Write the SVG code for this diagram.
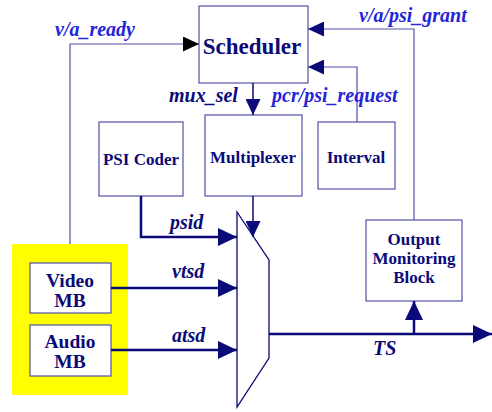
<svg xmlns="http://www.w3.org/2000/svg" width="492" height="412" viewBox="0 0 492 412">
<style>
.box{fill:#ffffff;stroke:#5050a8;stroke-width:1.2}
.nt{font-family:"Liberation Serif",serif;font-weight:bold;fill:#0a0a78;text-anchor:middle}
.lb{font-family:"Liberation Serif",serif;font-weight:bold;font-style:italic;font-size:20px}
.lb1{fill:#2424d8}
.lb2{fill:#0a0a78}
.thin{fill:none;stroke:#5050a8;stroke-width:1.2}
.ctl{fill:none;stroke:#0a0a78;stroke-width:1.5}
.data{fill:none;stroke:#0a0a78;stroke-width:2.5}
</style>
<defs>
<marker id="aL" markerUnits="userSpaceOnUse" markerWidth="19" markerHeight="18" refX="19" refY="9" orient="auto"><path d="M0,0 L19,9 L0,18 z" fill="#0a0a78"/></marker>
<marker id="aS" markerUnits="userSpaceOnUse" markerWidth="16" markerHeight="15" refX="16" refY="7.5" orient="auto"><path d="M0,0 L16,7.5 L0,15 z" fill="#0a0a78"/></marker>
<marker id="aK" markerUnits="userSpaceOnUse" markerWidth="16" markerHeight="15" refX="16" refY="7.5" orient="auto"><path d="M0,0 L16,7.5 L0,15 z" fill="#000000"/></marker>
</defs>
<rect id="mb-group" x="12" y="244" width="116" height="151" fill="#ffff00"/>
<g id="scheduler"><rect class="box" x="199" y="6" width="109" height="77"/><text class="nt" x="252" y="54" font-size="23">Scheduler</text></g>
<g id="psi-coder"><rect class="box" x="99" y="122" width="84" height="74"/><text class="nt" x="141" y="165" font-size="17">PSI Coder</text></g>
<g id="multiplexer"><rect class="box" x="205" y="115" width="97" height="81"/><text class="nt" x="253" y="163" font-size="17">Multiplexer</text></g>
<g id="interval"><rect class="box" x="318" y="122" width="77" height="67"/><text class="nt" x="356" y="163" font-size="17">Interval</text></g>
<g id="output-monitoring"><rect class="box" x="366" y="220" width="96" height="81"/><text class="nt" x="414" y="245" font-size="17">Output</text><text class="nt" x="414" y="264" font-size="17">Monitoring</text><text class="nt" x="414" y="283" font-size="17">Block</text></g>
<g id="video-mb"><rect class="box" x="30" y="263" width="81" height="50"/><text class="nt" x="70" y="287" font-size="19.5">Video</text><text class="nt" x="70" y="307" font-size="19.5">MB</text></g>
<g id="audio-mb"><rect class="box" x="30" y="325" width="81" height="51"/><text class="nt" x="70" y="348" font-size="19.5">Audio</text><text class="nt" x="70" y="368" font-size="19.5">MB</text></g>
<g id="mux"><path d="M237,212 L269,260 L269,358 L237,407 Z" fill="#ffffff" stroke="#0a0a78" stroke-width="1.3"/></g>
<g id="connectors">
<path class="thin" d="M70,244 V44 H199" marker-end="url(#aK)"/>
<path class="thin" d="M414,220 V29 H308" marker-end="url(#aS)"/>
<path class="thin" d="M357,122 V67 H308" marker-end="url(#aS)"/>
<path class="ctl" d="M253,83 V115" marker-end="url(#aS)"/>
<path class="ctl" d="M253,196 V237" marker-end="url(#aS)"/>
<path class="data" d="M141,196 V237 H237" marker-end="url(#aL)"/>
<path class="data" d="M111,288 H237" marker-end="url(#aL)"/>
<path class="data" d="M111,350 H237" marker-end="url(#aL)"/>
<path class="data" d="M269,334 H492" marker-end="url(#aL)"/>
<path class="data" d="M414,334 V301" marker-end="url(#aL)"/>
</g>
<g id="labels">
<text class="lb lb1" x="55" y="36">v/a_ready</text>
<text class="lb lb1" x="359" y="22">v/a/psi_grant</text>
<text class="lb lb1" x="272" y="102">pcr/psi_request</text>
<text class="lb lb2" x="169" y="102">mux_sel</text>
<text class="lb lb2" x="170" y="229">psid</text>
<text class="lb lb2" x="172" y="278">vtsd</text>
<text class="lb lb2" x="172" y="342">atsd</text>
<text class="lb lb2" x="373" y="355">TS</text>
</g>
</svg>
